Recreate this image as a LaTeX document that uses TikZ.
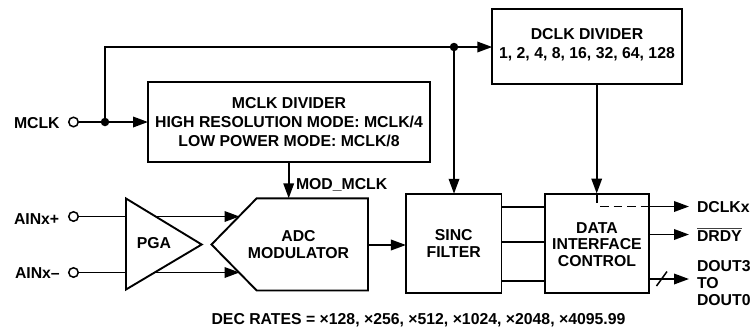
\documentclass[tikz,border=0pt]{standalone}
\usepackage{fontspec}
\setmainfont{Liberation Sans}
\usetikzlibrary{arrows.meta}
\tikzset{
  lbl/.style={inner sep=0pt,outer sep=0pt,font=\fontsize{15.8}{18.8}\selectfont\bfseries,align=center},
  tight/.style={font=\fontsize{15.8}{16.8}\selectfont\bfseries},
  llbl/.style={lbl,anchor=west,align=left},
  box/.style={draw,line width=1.8pt,lbl,inner sep=0pt},
  pin/.style={circle,draw,line width=1.5pt,fill=white,minimum size=9.5pt,inner sep=0pt},
  dotj/.style={circle,fill=black,minimum size=8.5pt,inner sep=0pt},
  wire/.style={line width=1.9pt},
  arr/.style={wire,-{Triangle[length=15pt,width=10.5pt]}}
}
\begin{document}
\begin{tikzpicture}[x=1pt,y=-1pt]
\useasboundingbox (0,0) rectangle (752,333);
% boxes
\node[box,minimum width=282pt,minimum height=79.5pt] (mdiv) at (289,122) {MCLK DIVIDER\\HIGH RESOLUTION MODE: MCLK/4\\LOW POWER MODE: MCLK/8};
\node[box,minimum width=189.5pt,minimum height=75pt] (ddiv) at (587,46.5) {};
\node[lbl] (ddivt) at (587,44.5) {DCLK DIVIDER\\1, 2, 4, 8, 16, 32, 64, 128};
\node[box,tight,minimum width=95.5pt,minimum height=99.5pt] (sinc) at (453.7,243.5) {SINC\\FILTER};
\node[box,minimum width=104.5pt,minimum height=99.5pt] (data) at (597,243.5) {};
\node[lbl,tight] (datat) at (597,244.5) {DATA\\INTERFACE\\CONTROL};
% pins and labels
\node[pin] (pm) at (73.5,122) {};
\node[pin] (pp) at (73.5,216.5) {};
\node[pin] (pn) at (73.5,272.5) {};
\node[llbl] (lm) at (14,123) {MCLK};
\node[llbl] (lp) at (14,219) {AINx+};
\node[llbl] (ln) at (15,273) {AINx–};
% PGA and ADC
\coordinate (pgaa) at (126,198.5);
\coordinate (pgab) at (201.7,244.5);
\coordinate (pgac) at (126,289.5);
\draw[wire,line join=miter] (pgaa) -- (pgab) -- (pgac) -- cycle;
\node[lbl] (pga) at (154,243.5) {PGA};
\coordinate (adctip) at (211.5,244.5);
\coordinate (adcnw) at (256.7,198.3);
\coordinate (adcne) at (368,198.3);
\coordinate (adcse) at (368,290.5);
\coordinate (adcsw) at (256.7,290.5);
\draw[wire,line join=miter] (adctip) -- (adcnw) -- (adcne) -- (adcse) -- (adcsw) -- cycle;
\node[lbl,tight] (adc) at (298.5,244.5) {ADC\\MODULATOR};
% junctions
\coordinate (j1) at (105,122);
\coordinate (j2) at (454,47);
\coordinate (top) at (105,47);
% connectors
\draw[arr] (pm) -- (mdiv.west |- j1);
\draw[wire] (j1) -- (top) -- (j2);
\draw[arr] (j2) -- (ddiv.west |- j2);
\draw[arr] (j2) -- (sinc.north -| j2);
\node[dotj] (dj1) at (j1) {};
\node[dotj] (dj2) at (j2) {};
\coordinate (mt) at (288.7,161.5);
\draw[arr] (mt) -- (mt |- adcne);
\node[llbl] (mod) at (296,185) {MOD\_MCLK};
\coordinate (dt) at (596.7,84);
\coordinate (dm) at (596.7,193.5);
\draw[arr] (dt) -- (dm);
\coordinate (dd) at (596.7,203);
\draw[wire] (dm) -- (dd);
\coordinate (d1) at (600,206.5);
\draw[wire,dash pattern=on 8.5pt off 5pt] (d1) -- (data.east |- d1);
% PGA to ADC
\coordinate (i1a) at (155,216.5);
\coordinate (i1b) at (239.5,216.5);
\coordinate (i2a) at (155,272.5);
\coordinate (i2b) at (239.5,272.5);
\draw[wire] (pp) -- (pgaa |- pp);
\draw[wire] (pn) -- (pgaa |- pn);
\draw[arr] (i1a) -- (i1b);
\draw[arr] (i2a) -- (i2b);
% ADC to sinc
\coordinate (as) at (368,245);
\draw[arr] (as) -- (sinc.west |- as);
% sinc to data
\foreach \y in {207.3,242,280.7}{ \draw[wire] (sinc.east |- 0,\y) -- (data.west |- 0,\y); }
% outputs
\coordinate (o1) at (689,206.5);
\coordinate (o2) at (689,234.5);
\coordinate (o3) at (689,279);
\draw[arr] (data.east |- o1) -- (o1);
\draw[arr] (data.east |- o2) -- (o2);
\draw[arr] (data.east |- o3) -- (o3);
\coordinate (s1) at (656.5,286);
\coordinate (s2) at (667,271.5);
\draw[line width=1.5pt] (s1) -- (s2);
\node[llbl] (dclk) at (697,207) {DCLKx};
\node[llbl] (drdy) at (697,235) {\rlap{\raisebox{12.3pt}{\color{black!75}\rule{45pt}{1.2pt}}}DRDY};
\node[llbl,tight] (dout) at (697,283) {DOUT3\\TO\\DOUT0};
\node[lbl] (dec) at (418.5,320) {DEC RATES = ×128, ×256, ×512, ×1024, ×2048, ×4095.99};
\end{tikzpicture}
\end{document}
